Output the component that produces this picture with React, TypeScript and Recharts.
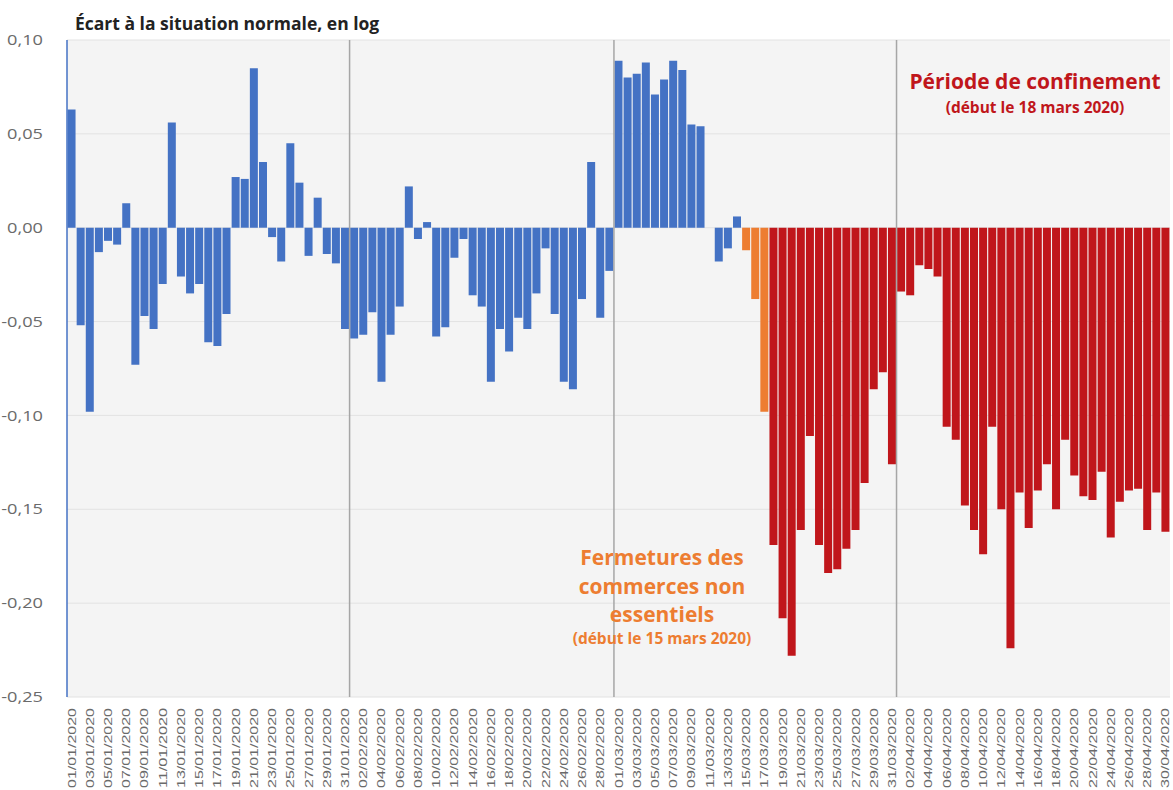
import React from "react";
import {
  BarChart,
  Bar,
  Cell,
  XAxis,
  YAxis,
  CartesianGrid,
  ReferenceLine,
} from "recharts";

// Écart à la situation normale (log), un point par jour, janvier -> avril 2020
const MONTHS = ["01", "02", "03", "04"];

const JAN = [
  0.063, -0.052, -0.098, -0.013, -0.007, -0.009, 0.013, -0.073, -0.047, -0.054,
  -0.03, 0.056, -0.026, -0.035, -0.03, -0.061, -0.063, -0.046, 0.027, 0.026,
  0.085, 0.035, -0.005, -0.018, 0.045, 0.024, -0.015, 0.016, -0.014, -0.019,
  -0.054,
];
const FEB = [
  -0.059, -0.057, -0.045, -0.082, -0.057, -0.042, 0.022, -0.006, 0.003, -0.058,
  -0.053, -0.016, -0.006, -0.036, -0.042, -0.082, -0.054, -0.066, -0.048,
  -0.054, -0.035, -0.011, -0.046, -0.082, -0.086, -0.038, 0.035, -0.048,
  -0.023,
];
const MAR = [
  0.089, 0.08, 0.082, 0.088, 0.071, 0.079, 0.089, 0.084, 0.055, 0.054, 0,
  -0.018, -0.011, 0.006, -0.012, -0.038, -0.098, -0.169, -0.208, -0.228,
  -0.161, -0.111, -0.169, -0.184, -0.182, -0.171, -0.161, -0.136, -0.086,
  -0.077, -0.126,
];
const APR = [
  -0.034, -0.036, -0.02, -0.022, -0.026, -0.106, -0.113, -0.148, -0.161,
  -0.174, -0.106, -0.15, -0.224, -0.141, -0.16, -0.14, -0.126, -0.15, -0.113,
  -0.132, -0.143, -0.145, -0.13, -0.165, -0.146, -0.14, -0.139, -0.161,
  -0.141, -0.162,
];

const Y_TICKS = [0.1, 0.05, 0, -0.05, -0.1, -0.15, -0.2, -0.25];
const MONTH_STARTS = ["01/02/2020", "01/03/2020", "01/04/2020"];

const FERMETURE_INDEX = 74; // 15/03/2020
const CONFINEMENT_INDEX = 77; // 18/03/2020

const BLUE = "#4472C4";
const ORANGE = "#ED7D31";
const RED = "#C0161B";
const LABEL = "#6A6A6A";

const data = [JAN, FEB, MAR, APR].flatMap((values, m) =>
  values.map((value, d) => ({
    date: `${String(d + 1).padStart(2, "0")}/${MONTHS[m]}/2020`,
    value,
  }))
);

const colorFor = (i: number) =>
  i >= CONFINEMENT_INDEX ? RED : i >= FERMETURE_INDEX ? ORANGE : BLUE;

const fmt = (v: number) =>
  (Math.abs(v) < 1e-9 ? 0 : v).toFixed(2).replace(".", ",");

const DateTick = (props: any) => {
  const { x, y, payload } = props;
  return (
    <text
      transform={`translate(${x},${y + 3}) rotate(-90)`}
      textAnchor="end"
      dominantBaseline="central"
      fontSize={11}
      fill={LABEL}
      fontFamily="'Liberation Sans', Arial, sans-serif"
      textLength={80}
      lengthAdjust="spacingAndGlyphs"
    >
      {payload.value}
    </text>
  );
};

const ValueTick = (props: any) => {
  const { x, y, payload } = props;
  return (
    <text
      transform={`translate(${x},${y}) scale(1.3,1)`}
      textAnchor="end"
      dominantBaseline="central"
      fontSize={14}
      fill={LABEL}
      fontFamily="'Open Sans', sans-serif"
    >
      {fmt(payload.value)}
    </text>
  );
};

const note = (color: string, size: number): React.CSSProperties => ({
  color,
  fontSize: size,
  fontWeight: 700,
  textAlign: "center",
  whiteSpace: "nowrap",
});

export default function App() {
  return (
    <div
      style={{
        position: "absolute",
        left: 0,
        top: 0,
        width: 1173,
        height: 790,
        background: "#fff",
        fontFamily: "'Open Sans', sans-serif",
      }}
    >
      <div
        style={{
          position: "absolute",
          left: 75,
          top: 11,
          fontSize: 17.5,
          fontWeight: 700,
          color: "#222",
          lineHeight: "24px",
        }}
      >
        Écart à la situation normale, en log
      </div>
      <BarChart
        width={1173}
        height={790}
        data={data}
        margin={{ top: 40, right: 3, bottom: 0, left: 0 }}
        barCategoryGap="6%"
      >
        <CartesianGrid
          vertical={false}
          stroke="#E2E2E2"
          fill="#F4F4F4"
          fillOpacity={1}
        />
        <XAxis
          dataKey="date"
          interval={1}
          height={93}
          tickLine={false}
          axisLine={false}
          tick={<DateTick />}
        />
        <YAxis
          domain={[-0.25, 0.1]}
          ticks={Y_TICKS}
          width={67}
          tickLine={false}
          tickMargin={18}
          axisLine={{ stroke: BLUE, strokeWidth: 1.5 }}
          tick={<ValueTick />}
        />
        {MONTH_STARTS.map((d) => (
          <ReferenceLine
            key={d}
            x={d}
            position="start"
            stroke="#A6A6A6"
            strokeWidth={1.5}
          />
        ))}
        <Bar dataKey="value" isAnimationActive={false}>
          {data.map((_, i) => (
            <Cell key={i} fill={colorFor(i)} />
          ))}
        </Bar>
      </BarChart>
      <div
        style={{
          position: "absolute",
          left: 880,
          top: 66,
          width: 310,
        }}
      >
        <div style={{ ...note(RED, 21), lineHeight: "30px" }}>
          Période de confinement
        </div>
        <div style={{ ...note(RED, 15.5), lineHeight: "22px" }}>
          (début le 18 mars 2020)
        </div>
      </div>
      <div
        style={{
          position: "absolute",
          left: 530,
          top: 543,
          width: 264,
        }}
      >
        <div style={{ ...note(ORANGE, 21), lineHeight: "28.5px" }}>
          Fermetures des
          <br />
          commerces non
          <br />
          essentiels
        </div>
        <div style={{ ...note(ORANGE, 15.5), lineHeight: "22px", marginTop: -2 }}>
          (début le 15 mars 2020)
        </div>
      </div>
    </div>
  );
}
